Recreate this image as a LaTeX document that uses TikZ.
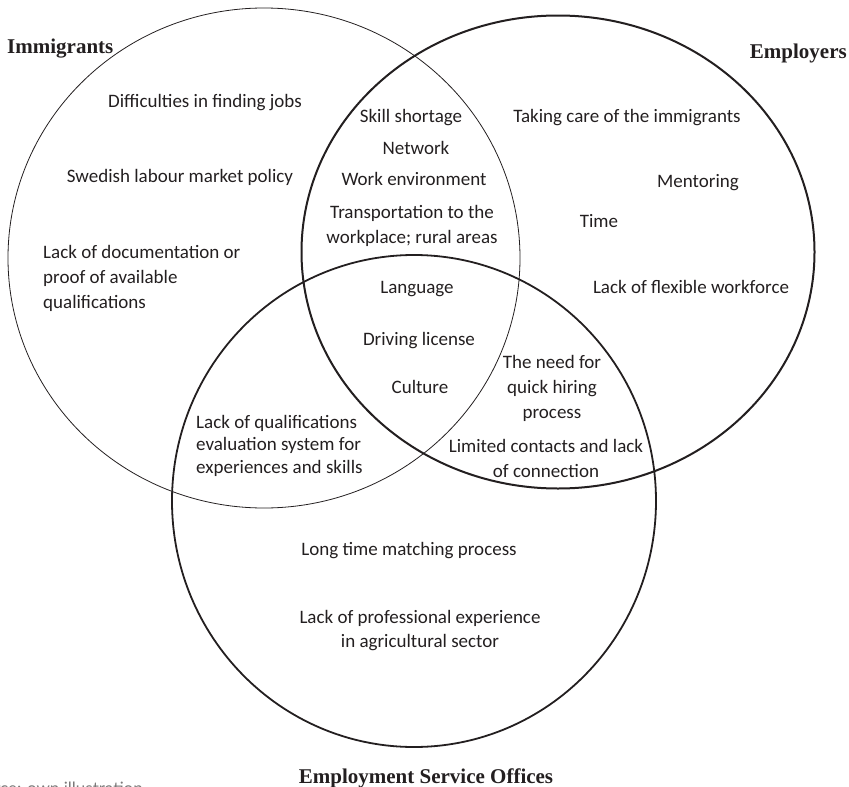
\documentclass[tikz,border=0pt]{standalone}
\usepackage{fontspec}
\setmainfont{Carlito}
\newfontfamily\hdfont{Liberation Serif}
\newfontfamily\srcfont{Lato}
\usetikzlibrary{shapes.geometric}
\definecolor{ink}{HTML}{231F20}
\tikzset{
  setline/.style={draw=ink, ellipse, inner sep=0pt, fill=none},
  lbl/.style={font=\fontsize{19}{25}\selectfont, text=ink, align=center, inner sep=0pt, anchor=base},
  lbll/.style={lbl, align=left, anchor=base west},
  hdr/.style={font=\hdfont\bfseries\fontsize{21}{25}\selectfont, text=ink, inner sep=0pt},
}
\begin{document}
\begin{tikzpicture}[x=1pt,y=-1pt]
\useasboundingbox (0,0) rectangle (849,787);
% sets
\node[setline, line width=0.8pt, minimum width=512pt, minimum height=500pt] (imm) at (264,258) {};
\node[setline, line width=2pt, minimum width=513pt, minimum height=473pt] (emp) at (558,252) {};
\node[setline, line width=1.8pt, minimum width=484pt, minimum height=492pt] (eso) at (414,501) {};
% headers
\node[hdr, anchor=base west] (himm) at (7,53) {Immigrants};
\node[hdr, anchor=base east] (hemp) at (847,58) {Employers};
\node[hdr, anchor=base] (heso) at (426,783) {Employment Service Offices};
\node[font=\srcfont\fontsize{17}{20}\selectfont, text=ink!60, inner sep=0pt, anchor=base east] (src) at (143,794) {Source: own illustration};
% Immigrants only (multi-line nodes: base = last line)
\node[lbl] (i1) at (205,107) {Difficulties in finding jobs};
\node[lbl] (i2) at (180,182) {Swedish labour market policy};
\node[lbll] (i3) at (43,308) {Lack of documentation or\\proof of available\\qualifications};
% Immigrants & Employers
\node[lbl] (ie1) at (411,122) {Skill shortage};
\node[lbl] (ie2) at (416,154) {Network};
\node[lbl] (ie3) at (414,185) {Work environment};
\node[lbl] (ie4) at (412,243) {Transportation to the\\workplace; rural areas};
% all three
\node[lbl] (a1) at (417,293) {Language};
\node[lbl] (a2) at (419,345) {Driving license};
\node[lbl] (a3) at (420,393) {Culture};
% Immigrants & ESO
\node[lbll, font=\fontsize{19}{22.5}\selectfont] (ies) at (196,473) {Lack of qualifications\\evaluation system for\\experiences and skills};
% Employers & ESO
\node[lbl] (es1) at (552,418) {The need for\\quick hiring\\process};
\node[lbl] (es2) at (546,477) {Limited contacts and lack\\of connection};
% Employers only
\node[lbl] (e1) at (627,122) {Taking care of the immigrants};
\node[lbl] (e2) at (698,187) {Mentoring};
\node[lbl] (e3) at (599,227) {Time};
\node[lbl] (e4) at (691,293) {Lack of flexible workforce};
% ESO only
\node[lbl] (s1) at (409,555) {Long time matching process};
\node[lbl, font=\fontsize{19}{24}\selectfont] (s2) at (420,647) {Lack of professional experience\\in agricultural sector};
\end{tikzpicture}
\end{document}
